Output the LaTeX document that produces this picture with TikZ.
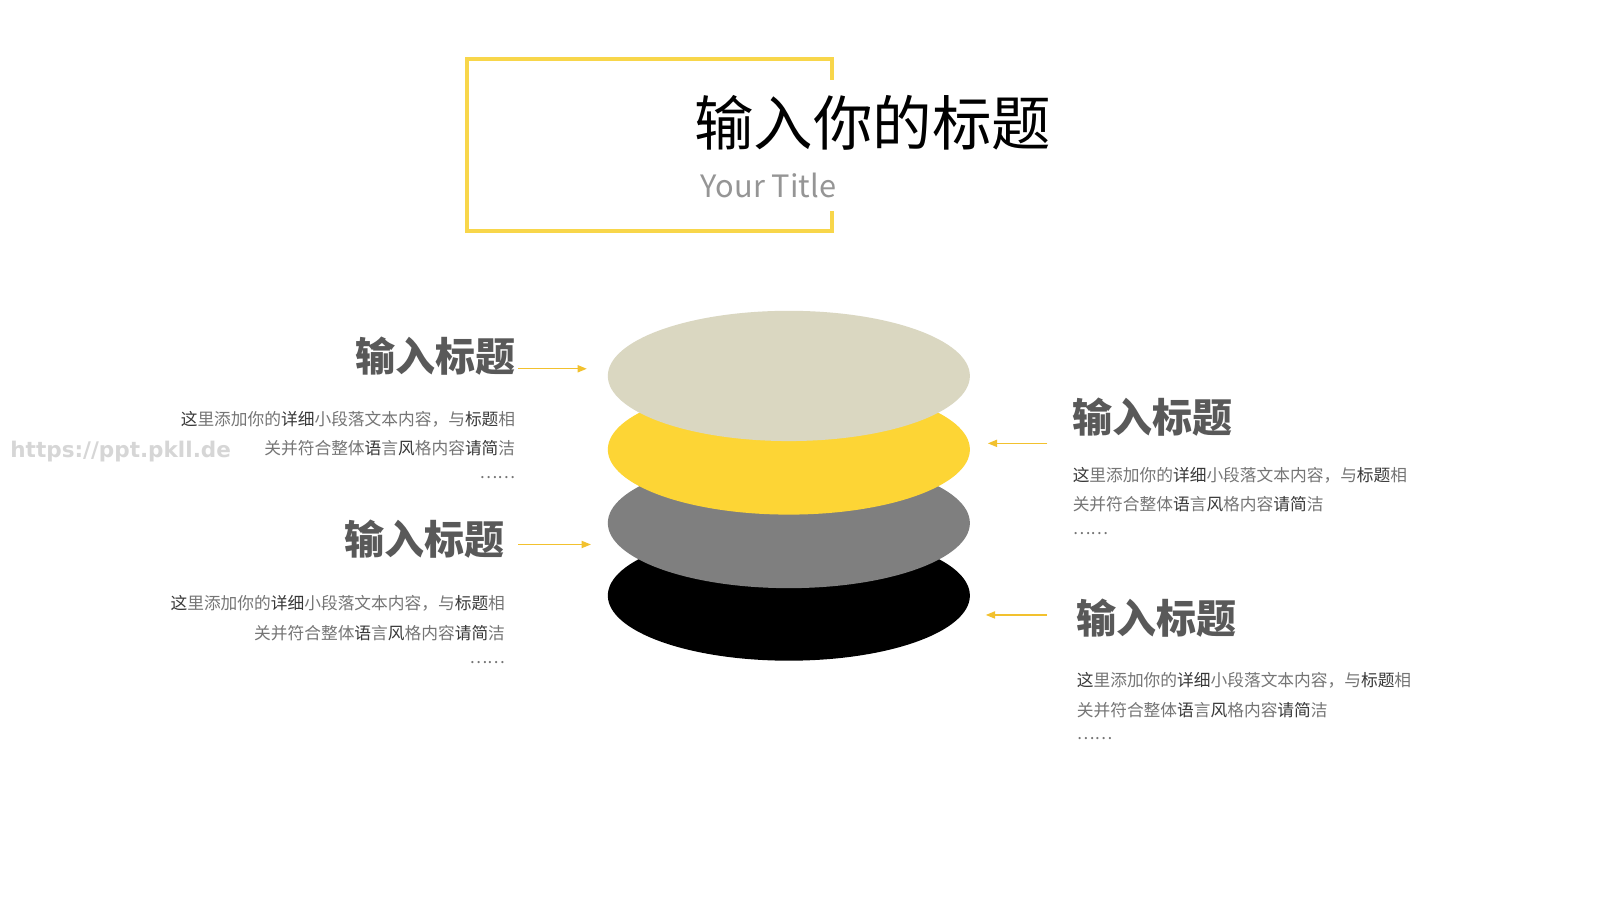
\documentclass[tikz,border=0pt]{standalone}
\usepackage{fontspec}
\setmainfont{Noto Sans CJK SC}
\newfontfamily\wmfont{DejaVu Sans}
\usetikzlibrary{arrows.meta,shapes.geometric}
\definecolor{boxyel}{HTML}{F8D64A}
\definecolor{arrowyel}{HTML}{F2C12E}
\definecolor{beige}{HTML}{DAD7C1}
\definecolor{discyel}{HTML}{FDD535}
\definecolor{discgray}{HTML}{7F7F7F}
\definecolor{headc}{HTML}{595959}
\definecolor{bodyc}{HTML}{757575}
\definecolor{dkc}{HTML}{383838}
\definecolor{wmc}{HTML}{D6D6D6}
\definecolor{subc}{HTML}{959595}
\newcommand\dk[1]{\textcolor{dkc}{#1}}
\newcommand\bodytext{\dk{这}里添加你的\dk{详细}小段落文本内容，与\dk{标题}相\\关并符合整体\dk{语}言\dk{风}格内容\dk{请简}洁\\[-6pt]……}
\begin{document}
\begin{tikzpicture}[x=0.995pt,y=-0.996pt,
  disc/.style={ellipse, minimum width=353pt, minimum height=127pt, inner sep=0pt, draw=none},
  heading/.style={inner sep=0pt, text=headc, font=\fontsize{39}{39}\selectfont\bfseries},
  bodytxt/.style={inner sep=0pt, text=bodyc, font=\fontsize{16.3}{29}\selectfont},
  pointer/.style={draw=arrowyel, line width=1.2pt, -{Triangle[length=9pt,width=7pt]}, fill=arrowyel}]
\useasboundingbox (0pt,0pt) rectangle (1560pt,-877.5pt);
\fill[white] (0pt,0pt) rectangle (1560pt,-877.5pt);

% title frame
\draw[boxyel, line width=4pt] (815,78) -- (815,58) -- (458,58) -- (458,226) -- (815,226) -- (815,207);
\node[inner sep=0pt, anchor=base, font=\fontsize{58}{58}\selectfont] (title) at (855,142) {输入你的标题};
\node[inner sep=0pt, anchor=base, text=subc, font=\fontsize{30}{30}\selectfont] (subtitle) at (753,193) {Your Title};

% watermark
\node[inner sep=0pt, anchor=base west, text=wmc, font=\wmfont\bfseries\fontsize{21}{21}\selectfont] (wm) at (10,448) {https://ppt.pkll.de};

% discs
\node[disc, fill=black] (d4) at (773,583) {};
\node[disc, fill=discgray] (d3) at (773,512) {};
\node[disc, fill=discyel] (d2) at (773,440) {};
\node[disc, fill=beige] (d1) at (773,368) {};

% left block 1
\node[heading, anchor=base east] (h1) at (505,364) {输入标题};
\node[bodytxt, anchor=north east, align=right] (b1) at (505,402) {\bodytext};
\coordinate (a1s) at (508,361);
\coordinate (a1e) at (575,361);
\draw[pointer] (a1s) -- (a1e);

% left block 2
\node[heading, anchor=base east] (h2) at (495,543) {输入标题};
\node[bodytxt, anchor=north east, align=right] (b2) at (495,583) {\bodytext};
\coordinate (a2s) at (508,533);
\coordinate (a2e) at (579,533);
\draw[pointer] (a2s) -- (a2e);

% right block 1
\node[heading, anchor=base west] (h3) at (1051,423) {输入标题};
\node[bodytxt, anchor=north west, align=left] (b3) at (1051,457) {\bodytext};
\coordinate (a3s) at (1026,434);
\coordinate (a3e) at (968,434);
\draw[pointer] (a3s) -- (a3e);

% right block 2
\node[heading, anchor=base west] (h4) at (1055,620) {输入标题};
\node[bodytxt, anchor=north west, align=left] (b4) at (1055,658) {\bodytext};
\coordinate (a4s) at (1026,602);
\coordinate (a4e) at (966,602);
\draw[pointer] (a4s) -- (a4e);
\end{tikzpicture}
\end{document}
